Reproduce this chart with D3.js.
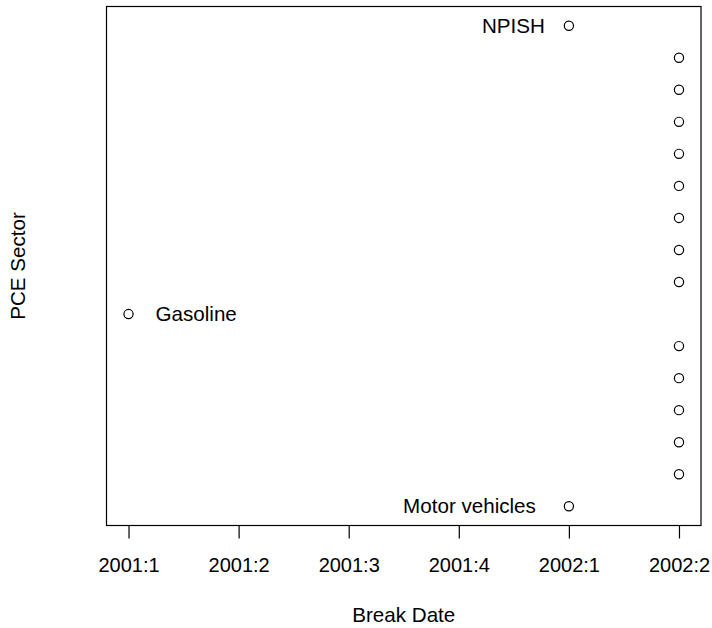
<!DOCTYPE html>
<html>
<head>
<meta charset="utf-8">
<script src="https://cdn.jsdelivr.net/npm/d3@7"></script>
<style>
  html, body { margin: 0; padding: 0; background: #fff; }
  svg { display: block; }
  text { font-family: "Liberation Sans", Arial, Helvetica, sans-serif; fill: #000; }
</style>
</head>
<body>
<svg id="chart" width="712" height="628"></svg>
<script>
// Estimated structural break date for each PCE sector (sector 1 = bottom row).
const sectorIndex = [1, 2, 3, 4, 5, 6, 7, 8, 9, 10, 11, 12, 13, 14, 15, 16];
// Break date as a position on the quarter axis (0 = 2001:1 ... 5 = 2002:2).
const breakQuarter = [4, 5, 5, 5, 5, 5, 0, 5, 5, 5, 5, 5, 5, 5, 5, 4];
// Names shown next to selected points ("" = not labelled).
const sectorLabel = ["Motor vehicles", "", "", "", "", "", "Gasoline", "", "", "", "", "", "", "", "", "NPISH"];
// Quarter tick labels.
const tickLabels = ["2001:1", "2001:2", "2001:3", "2001:4", "2002:1", "2002:2"];

const svg = d3.select("#chart");

const plot = { left: 106.5, right: 701, top: 6.5, bottom: 525.5 };
const labelSize = 20.6;

// R-style 4% padding around the data range
const xMin = 0, xMax = tickLabels.length - 1;
const xPad = (xMax - xMin) * 0.04;
const x = d3.scaleLinear().domain([xMin - xPad, xMax + xPad]).range([plot.left, plot.right]);

const yMin = d3.min(sectorIndex), yMax = d3.max(sectorIndex);
const yPad = (yMax - yMin) * 0.04;
const y = d3.scaleLinear().domain([yMin - yPad, yMax + yPad]).range([plot.bottom, plot.top]);

// frame
svg.append("rect")
  .attr("x", plot.left).attr("y", plot.top)
  .attr("width", plot.right - plot.left).attr("height", plot.bottom - plot.top)
  .attr("fill", "none").attr("stroke", "#000").attr("stroke-width", 1.2);

// bottom axis
const xAxis = d3.axisBottom(x)
  .tickValues(d3.range(tickLabels.length))
  .tickFormat(i => tickLabels[i])
  .tickSize(13)
  .tickPadding(19)
  .tickSizeOuter(0);

const gx = svg.append("g")
  .attr("transform", `translate(0,${plot.bottom})`)
  .call(xAxis);
gx.select(".domain").remove();
gx.selectAll(".tick line").attr("stroke", "#000").attr("stroke-width", 1.2);
gx.selectAll(".tick text")
  .attr("font-size", 20)
  .attr("font-family", "Liberation Sans, Arial, sans-serif")
  .attr("fill", "#000");

// axis titles
svg.append("text")
  .attr("x", (plot.left + plot.right) / 2).attr("y", 621.5)
  .attr("text-anchor", "middle").attr("font-size", labelSize)
  .text("Break Date");

svg.append("text")
  .attr("transform", `translate(25,${(plot.top + plot.bottom) / 2}) rotate(-90)`)
  .attr("text-anchor", "middle").attr("font-size", labelSize)
  .text("PCE Sector");

// points
const rows = sectorIndex.map((s, i) => ({ s, q: breakQuarter[i], label: sectorLabel[i] }));

svg.append("g").selectAll("circle")
  .data(rows)
  .join("circle")
  .attr("cx", d => x(d.q))
  .attr("cy", d => y(d.s))
  .attr("r", 4.6)
  .attr("fill", "none")
  .attr("stroke", "#000")
  .attr("stroke-width", 1.2);

// point labels: placed to the left, unless the point sits at the left edge
const labelGap = { "NPISH": 24, "Motor vehicles": 33, "Gasoline": 27 };
svg.append("g").selectAll("text")
  .data(rows.filter(d => d.label))
  .join("text")
  .attr("x", d => {
    const gap = labelGap[d.label] || 26;
    return d.q === xMin ? x(d.q) + gap : x(d.q) - gap;
  })
  .attr("y", d => y(d.s))
  .attr("dy", "0.35em")
  .attr("text-anchor", d => d.q === xMin ? "start" : "end")
  .attr("font-size", labelSize)
  .text(d => d.label);
</script>
</body>
</html>
